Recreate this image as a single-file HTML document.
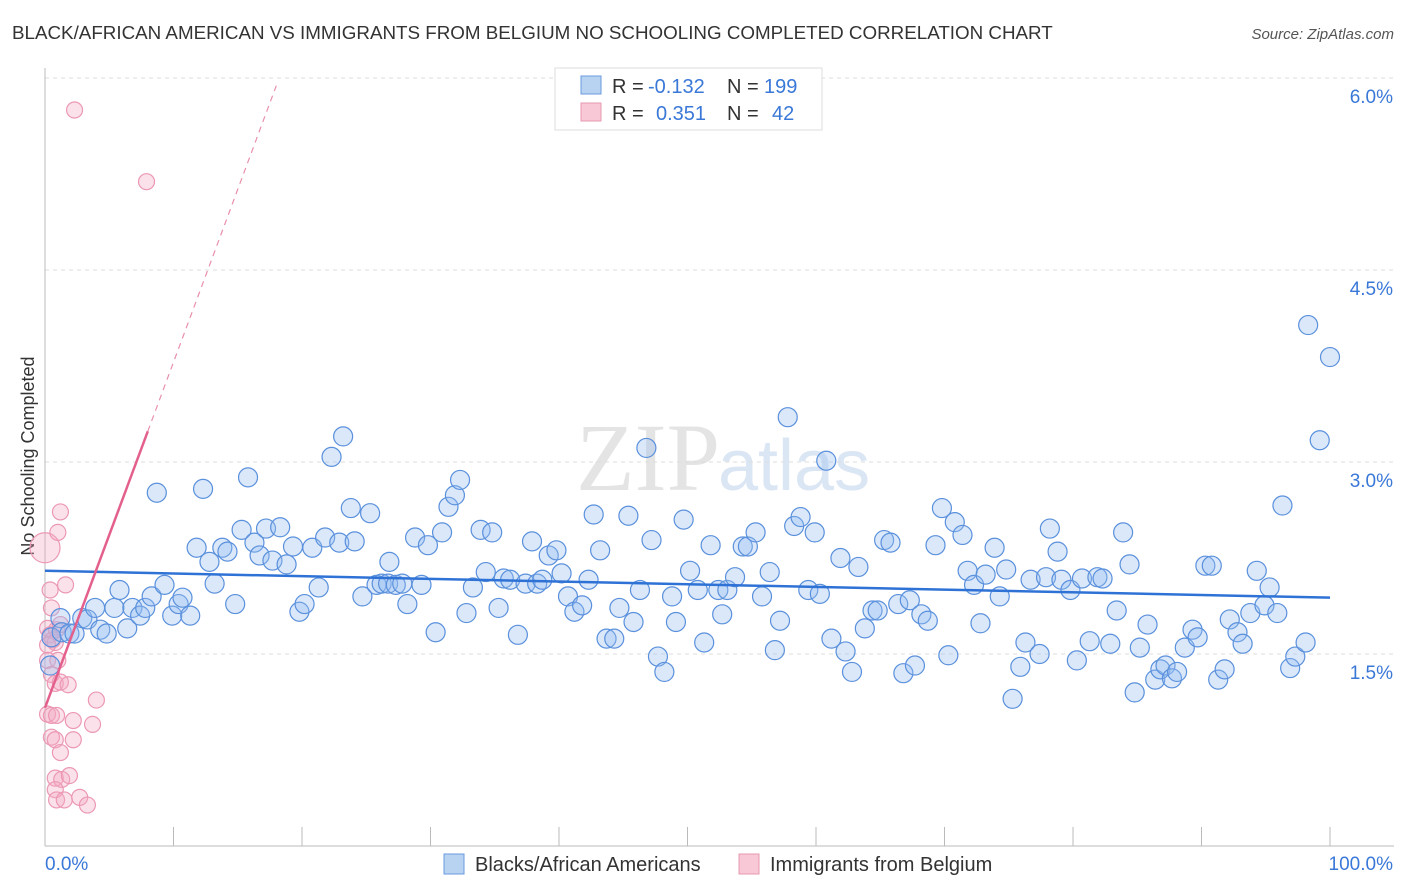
<!DOCTYPE html>
<html><head><meta charset="utf-8"><style>
body{margin:0;background:#fff;font-family:"Liberation Sans",sans-serif;}
#wrap{position:relative;width:1406px;height:892px;overflow:hidden}
</style></head><body>
<div id="wrap">
<svg id="svg" width="1406" height="892" xmlns="http://www.w3.org/2000/svg">
<text x="12" y="39" font-size="18.8" fill="#333">BLACK/AFRICAN AMERICAN VS IMMIGRANTS FROM BELGIUM NO SCHOOLING COMPLETED CORRELATION CHART</text>
<text x="1394" y="39" font-size="15" fill="#555" font-style="italic" text-anchor="end">Source: ZipAtlas.com</text>
<text x="720" y="490" font-size="96" fill="#e4e4e4" text-anchor="end" font-family="Liberation Serif">ZIP</text>
<text x="718" y="490" font-size="72" fill="#dbe6f4">atlas</text>
<text transform="translate(34,456) rotate(-90)" font-size="18" fill="#333" text-anchor="middle">No Schooling Completed</text>
<g id="grid"></g><g id="axes"></g><g id="pinkpts"></g><g id="bluepts"></g><g id="lines"></g>
<g>
<rect x="555" y="68" width="267" height="62" fill="#fff" stroke="#ddd"/>
<rect x="581" y="76" width="20" height="18" fill="#b8d2f2" stroke="#6a9ade"/>
<rect x="581" y="103" width="20" height="18" fill="#f8c8d6" stroke="#e898b0"/>
<g font-size="20" fill="#333">
<text x="612" y="93">R =</text><text x="648" y="93" fill="#3a78d8">-0.132</text>
<text x="727" y="93">N =</text><text x="764" y="93" fill="#3a78d8">199</text>
<text x="612" y="120">R =</text><text x="656" y="120" fill="#3a78d8">0.351</text>
<text x="727" y="120">N =</text><text x="772" y="120" fill="#3a78d8">42</text>
</g>
</g>
<g>
<rect x="444" y="854" width="20" height="20" fill="#b8d2f2" stroke="#6a9ade"/>
<text x="475" y="871" font-size="20" fill="#333">Blacks/African Americans</text>
<rect x="739" y="854" width="20" height="20" fill="#f8c8d6" stroke="#e898b0"/>
<text x="770" y="871" font-size="20" fill="#333">Immigrants from Belgium</text>
</g>
</svg>
</div>
<script>
const yTicks=[1.5,3.0,4.5,6.0];
const xTickLabels=["0.0%","100.0%"];
const blueX=[0.4,0.5,1.2,1.3,1.9,2.3,2.9,3.3,3.9,4.3,4.8,5.4,5.8,6.4,6.8,7.4,7.8,8.3,8.7,9.3,9.9,10.4,10.7,11.3,11.8,12.3,12.8,13.2,13.8,14.2,14.8,15.3,15.8,16.3,16.7,17.2,17.7,18.3,18.8,19.3,19.8,20.2,20.8,21.3,21.8,22.3,22.9,23.2,23.8,24.1,24.7,25.3,25.8,26.2,26.7,26.8,27.3,27.8,28.2,28.8,29.3,29.8,30.4,30.9,31.4,31.9,32.3,32.8,33.3,33.9,34.3,34.8,35.3,35.7,36.2,36.8,37.4,37.9,38.3,38.7,39.2,39.8,40.2,40.7,41.2,41.8,42.3,42.7,43.2,43.7,44.3,44.7,45.4,45.8,46.3,46.8,47.2,47.7,48.2,48.8,49.1,49.7,50.2,50.8,51.3,51.8,52.4,52.7,53.1,53.7,54.3,54.7,55.3,55.8,56.4,56.8,57.2,57.8,58.3,58.8,59.4,59.9,60.3,60.8,61.2,61.9,62.3,62.8,63.3,63.8,64.4,64.8,65.3,65.8,66.4,66.8,67.3,67.7,68.2,68.7,69.3,69.8,70.3,70.8,71.4,71.8,72.3,72.8,73.2,73.9,74.3,74.8,75.3,75.9,76.3,76.7,77.4,77.9,78.2,78.8,79.1,79.8,80.3,80.7,81.3,81.9,82.3,82.9,83.4,83.9,84.4,84.8,85.2,85.8,86.4,86.8,87.2,87.7,88.1,88.7,89.3,89.7,90.3,90.8,91.3,91.8,92.2,92.8,93.2,93.8,94.3,94.9,95.3,95.9,96.3,96.9,97.3,98.1,98.3,99.2,100];
const blueY=[1.41,1.63,1.78,1.67,1.66,1.66,1.78,1.77,1.86,1.69,1.66,1.86,2.00,1.70,1.86,1.80,1.86,1.95,2.76,2.04,1.80,1.89,1.94,1.80,2.33,2.79,2.22,2.05,2.33,2.30,1.89,2.47,2.88,2.37,2.27,2.48,2.23,2.49,2.20,2.34,1.83,1.89,2.33,2.02,2.41,3.04,2.37,3.20,2.64,2.38,1.95,2.60,2.04,2.05,2.05,2.22,2.04,2.05,1.89,2.41,2.04,2.35,1.67,2.45,2.65,2.74,2.86,1.82,2.02,2.47,2.14,2.45,1.86,2.09,2.08,1.65,2.05,2.38,2.05,2.08,2.27,2.31,2.13,1.95,1.83,1.88,2.08,2.59,2.31,1.62,1.62,1.86,2.58,1.75,2.00,3.11,2.39,1.48,1.36,1.95,1.75,2.55,2.15,2.00,1.59,2.35,2.00,1.81,2.00,2.10,2.34,2.34,2.45,1.95,2.14,1.53,1.76,3.35,2.50,2.57,2.00,2.45,1.97,3.01,1.62,2.25,1.52,1.36,2.18,1.70,1.84,1.84,2.39,2.37,1.89,1.35,1.92,1.41,1.81,1.76,2.35,2.64,1.49,2.53,2.43,2.15,2.04,1.74,2.12,2.33,1.95,2.16,1.15,1.40,1.59,2.08,1.50,2.10,2.48,2.30,2.08,2.00,1.45,2.09,1.60,2.10,2.09,1.58,1.84,2.45,2.20,1.20,1.55,1.73,1.30,1.38,1.41,1.31,1.36,1.55,1.69,1.63,2.19,2.19,1.30,1.38,1.77,1.67,1.58,1.82,2.15,1.88,2.02,1.82,2.66,1.39,1.48,1.59,4.07,3.17,3.82];
const pinkX=[0,0.4,0.5,0.2,0.4,0.6,0.8,0.2,0.9,1.2,1.0,1.6,0.2,0.5,0.8,1.2,1.8,0.2,0.5,0.9,0.5,0.8,2.2,2.2,3.7,4.0,1.2,0.8,1.3,1.9,0.8,0.9,1.5,2.7,3.3,2.3,7.9,1.2,1.0];
const pinkY=[2.33,2.00,1.86,1.70,1.65,1.61,1.59,1.57,1.69,2.61,2.45,2.04,1.45,1.34,1.27,1.28,1.26,1.03,1.02,1.02,0.85,0.83,0.98,0.83,0.95,1.14,0.73,0.53,0.52,0.55,0.44,0.36,0.36,0.38,0.32,5.75,5.19,1.73,1.45];
const blueTrend=[2.15,1.94];
const pinkTrend=[1.08,0.27];
const X0=45,X1=1330,Y0=846,PX=128;
function sx(v){return X0+(X1-X0)*v/100;}
function sy(v){return Y0-v*PX;}
const NS="http://www.w3.org/2000/svg";
function mk(tag,attrs,parent){const e=document.createElementNS(NS,tag);for(const k in attrs)e.setAttribute(k,attrs[k]);parent.appendChild(e);return e;}
const grid=document.getElementById('grid'),axes=document.getElementById('axes');
yTicks.forEach(t=>{
  const l=mk('line',{x1:45,x2:1394,y1:sy(t),y2:sy(t),stroke:'#ddd','stroke-dasharray':'4,4'},grid);
  
  
  const tx=mk('text',{x:1393,y:sy(t)+25,'font-size':19,fill:'#3a78d8','text-anchor':'end'},axes);
  tx.textContent=t.toFixed(1)+'%';
  
  
});
mk('line',{x1:45,x2:45,y1:68,y2:846,stroke:'#bbb'},axes);
mk('line',{x1:45,x2:1394,y1:846,y2:846,stroke:'#bbb'},axes);
for(let i=0;i<=10;i++){const t=mk('line',{x1:sx(i*10),x2:sx(i*10),y1:827,y2:846,stroke:'#bbb'},axes);
  
  }
const xl0=mk('text',{x:45,y:870,'font-size':19,fill:'#3a78d8'},axes);xl0.textContent=xTickLabels[0];


const xl1=mk('text',{x:1393,y:870,'font-size':19,fill:'#3a78d8','text-anchor':'end'},axes);xl1.textContent=xTickLabels[1];


const pg=document.getElementById('pinkpts');
pinkX.forEach((x,i)=>{const c=mk('circle',{cx:sx(x),cy:sy(pinkY[i]),r:i===0?15:8,fill:'rgba(244,170,195,0.35)',stroke:'#ec98b4','stroke-width':1.2},pg);
  
  });
const bg=document.getElementById('bluepts');
blueX.forEach((x,i)=>{const c=mk('circle',{cx:sx(x),cy:sy(blueY[i]),r:9.5,fill:'rgba(150,190,240,0.35)',stroke:'#5a90dc','stroke-width':1.2},bg);
  
  });
const lg=document.getElementById('lines');
const bl=mk('line',{x1:sx(0),y1:sy(blueTrend[0]),x2:sx(100),y2:sy(blueTrend[1]),stroke:'#2f72d6','stroke-width':2.5},lg);


const pf=x=>pinkTrend[0]+pinkTrend[1]*x;
const pl=mk('line',{x1:sx(0),y1:sy(pf(0)),x2:sx(8),y2:sy(pf(8)),stroke:'#e4608c','stroke-width':2.5},lg);


const pd=mk('line',{x1:sx(8),y1:sy(pf(8)),x2:sx(18),y2:sy(pf(18)),stroke:'#e890aa','stroke-width':1.2,'stroke-dasharray':'6,5'},lg);


</script>
</body></html>
